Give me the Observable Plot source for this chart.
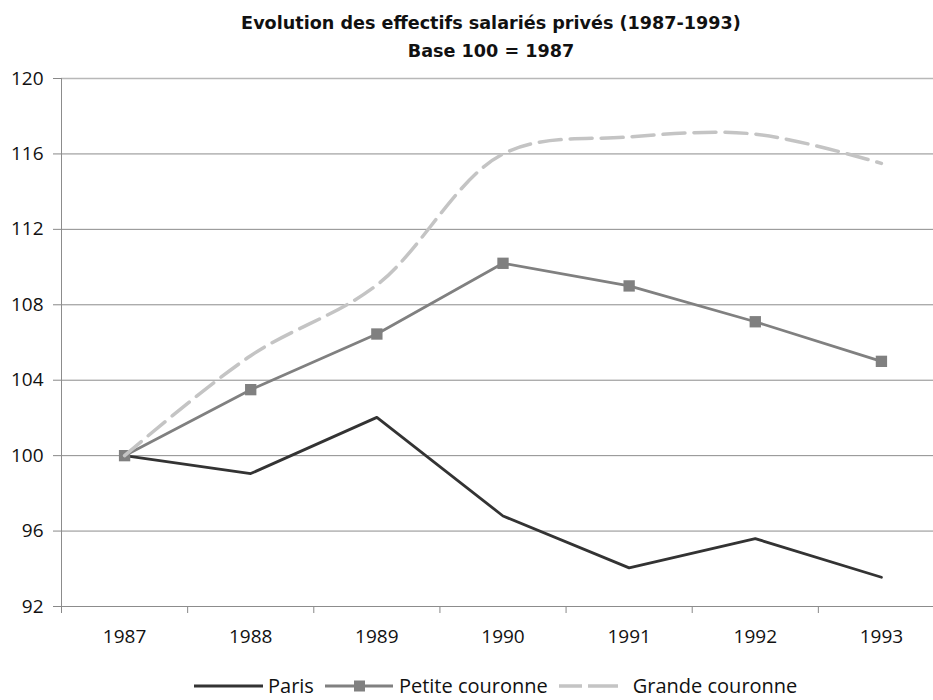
<!DOCTYPE html>
<html><head><meta charset="utf-8">
<script src="https://cdn.jsdelivr.net/npm/d3@7"></script>
<script src="https://cdn.jsdelivr.net/npm/@observablehq/plot@0.6"></script>
<style>
body{margin:0;background:#fff;}
#wrap{position:relative;width:933px;height:700px;overflow:hidden;font-family:"Open Sans",sans-serif;color:#111;background:#fff;}
#title{position:absolute;left:491px;top:0;transform:translateX(-50%);white-space:nowrap;text-align:center;font-family:"DejaVu Sans",sans-serif;font-weight:bold;font-size:17.6px;line-height:28px;padding-top:9px;}
#chart{position:absolute;left:0;top:66px;}
#legend{position:absolute;left:194px;top:677px;height:18px;display:flex;align-items:center;font-size:20px;line-height:18px;white-space:nowrap;}
#legend svg{display:block;}
g[aria-label^="y-axis"] line, g[aria-label^="y-axis"] path, g[aria-label^="x-axis"] line, g[aria-label^="x-axis"] path {stroke:#888;}
</style></head>
<body>
<div id="wrap">
  <div id="title">Evolution des effectifs salariés privés (1987-1993)<br>Base 100 = 1987</div>
  <div id="chart"></div>
  <div id="legend"></div>
</div>
<script>
const years = [1987, 1988, 1989, 1990, 1991, 1992, 1993];
const paris = [100, 99.05, 102.03, 96.8, 94.05, 95.6, 93.55];
const petite = [100, 103.5, 106.45, 110.2, 109.0, 107.1, 105.0];
const grande = [100, 105.3, 109.05, 116.0, 116.9, 117.05, 115.5];
const yTicks = [92, 96, 100, 104, 108, 112, 116, 120];
const seriesNames = ["Paris", "Petite couronne", "Grande couronne"];

const rows = years.map((yr, i) => ({year: yr, paris: paris[i], petite: petite[i], grande: grande[i]}));
const boundaries = years.map(y => y - 0.5);
const yMin = yTicks[0], yMax = yTicks[yTicks.length - 1];

const chart = Plot.plot({
  width: 933, height: 600,
  marginTop: 12, marginBottom: 60, marginLeft: 61, marginRight: 0,
  style: {fontFamily: "Open Sans", fontSize: "19px", color: "#111", background: "#fff", overflow: "visible"},
  x: {domain: [years[0] - 0.5, years[years.length - 1] + 0.5], range: [61, 944], ticks: boundaries, tickFormat: () => "", tickSize: 7, label: null},
  y: {domain: [yMin, yMax], ticks: yTicks, tickSize: 8, tickPadding: 10, label: null},
  marks: [
    Plot.ruleY(yTicks.slice(0, -1), {stroke: "#8c8c8c"}),
    Plot.ruleY([yMax], {stroke: "#b8b8b8", strokeWidth: 1.5}),
    Plot.ruleX([boundaries[0]], {y1: yMin, y2: yMax, stroke: "#8c8c8c"}),
    Plot.text(years, {x: d => d, text: d => String(d), frameAnchor: "bottom", dy: 36, fill: "#111"}),
    Plot.line(rows, {x: "year", y: "paris", stroke: "#333", strokeWidth: 2.8}),
    Plot.line(rows, {x: "year", y: "petite", stroke: "#808080", strokeWidth: 2.8}),
    Plot.dot(rows, {x: "year", y: "petite", symbol: "square", r: 6.4, fill: "#808080"}),
    Plot.line(rows, {x: "year", y: "grande", stroke: "#c4c4c4", strokeWidth: 3.5, strokeDasharray: "22,9", curve: "catmull-rom"})
  ]
});
document.getElementById("chart").appendChild(chart);

const legend = document.getElementById("legend");
const swatches = [
  `<svg width="69" height="14"><line x1="0" x2="69" y1="7" y2="7" stroke="#333" stroke-width="2.8"/></svg>`,
  `<svg width="68" height="14"><line x1="0" x2="68" y1="7" y2="7" stroke="#808080" stroke-width="2.8"/><rect x="29" y="1.5" width="11" height="11" fill="#808080"/></svg>`,
  `<svg width="68" height="14"><line x1="0" x2="68" y1="7" y2="7" stroke="#c4c4c4" stroke-width="3.5" stroke-dasharray="23,6,30,9"/></svg>`
];
const gaps = [[5, 11], [6, 11], [6, 0]];
seriesNames.forEach((name, i) => {
  const w = document.createElement("span");
  w.innerHTML = swatches[i];
  legend.appendChild(w.firstChild);
  const t = document.createElement("span");
  t.textContent = name;
  t.style.margin = `0 ${gaps[i][1]}px 0 ${gaps[i][0]}px`;
  legend.appendChild(t);
});
</script>
</body></html>
